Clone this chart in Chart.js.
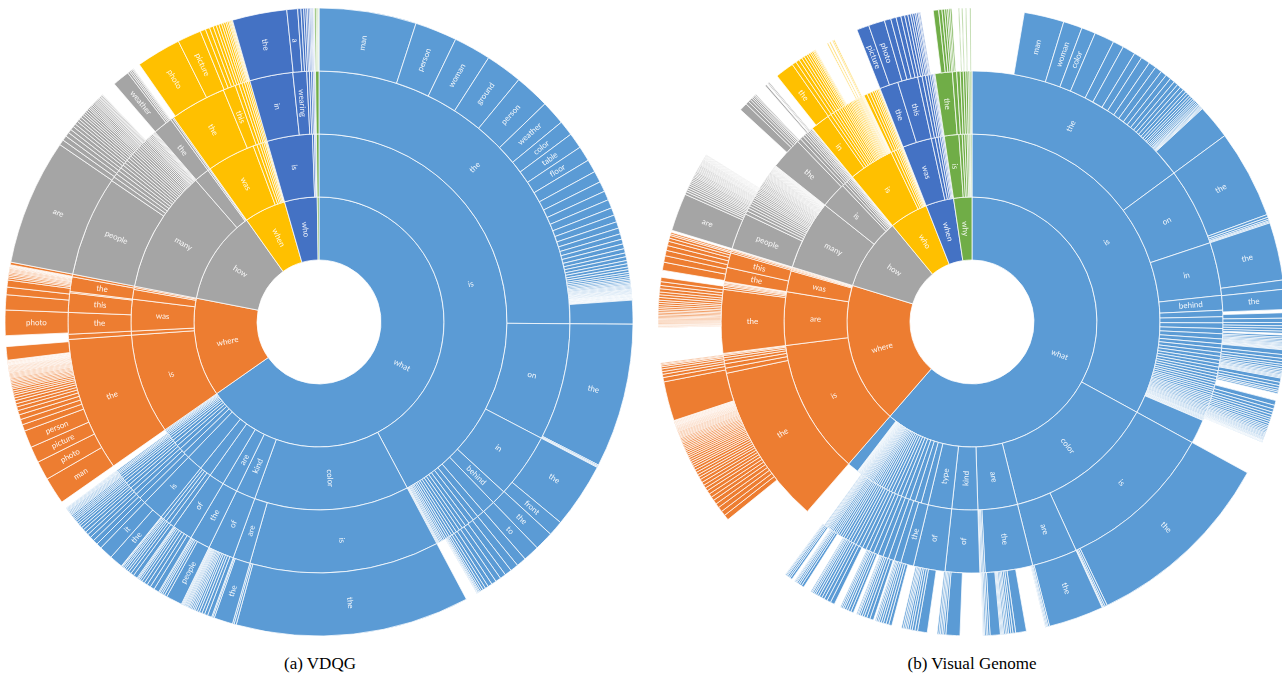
<!DOCTYPE html>
<html lang="en">
<head>
<meta charset="UTF-8">
<title>Question word sunbursts</title>
<script src="https://cdn.jsdelivr.net/npm/chart.js"></script>
<style>
  html, body { margin: 0; padding: 0; background: #fff; overflow: hidden; width: 1282px; height: 686px; }
  canvas { position: absolute; top: 8px; }
  #vdqg { left: 5px; }
  #vg { left: 658px; }
  .caption { position: absolute; top: 654px; width: 300px; text-align: center;
             font-family: "Liberation Serif", "DejaVu Serif", serif; font-size: 17px; color: #000; }
</style>
</head>
<body>
<canvas id="vdqg" width="628" height="628"></canvas>
<canvas id="vg" width="628" height="628"></canvas>
<div class="caption" style="left:170px">(a) VDQG</div>
<div class="caption" style="left:822px">(b) Visual Genome</div>

<script>
// Arc sizes are in degrees, clockwise from 12 o'clock.
// In ring lists: a bare number = unlabelled word, [word, size] = labelled word,
// [null, size] = no question continues there (left blank).

// ---------- (a) VDQG ----------
const vdqgFirstWords = ["what", "where", "how", "when", "who", "why"];
const vdqgFirstSizes = [235, 46, 43.6, 19.4, 15.2, 0.8];

const vdqgRing2 = [
  ["is", 152], ["color", 48], ["kind", 6], ["are", 4.7], 4.7,
  3.6, 5.0, 2.0, 1.6, 1.3, 1.1, 1.0, 0.8, 0.7, 0.6, 0.5, 0.4, 0.4, 0.3, 0.3,
  ["is", 31], 1.2, ["was", 9.8], 3.0, 0.6, 0.4,
  ["many", 38], 4.8, 0.5, 0.3,
  ["was", 14.9], 1.2, 0.9, 0.7, 0.6, 0.5, 0.3, 0.3,
  ["is", 14], 0.6, 0.4, 0.2,
  0.8
];

const vdqgRing3 = [
  ["the", 90.4], ["on", 27.2], ["in", 15], ["behind", 3.4], 3.1,
  1.7, 1.3, 1.2, 1.0, 0.9, 0.8, 0.8, 0.7, 0.6, 0.6, 0.5, 0.5, 0.4, 0.4, 0.3, 0.3, 0.3, 0.2, 0.2, 0.2,
  ["is", 44], ["are", 4], ["of", 6], ["the", 4.7], ["of", 4.7],
  1.2, 0.9, 0.8, 0.7,
  ["is", 5.0],
  1.5, 1.2, 1.0, 0.9, 0.8, 0.7, 0.7, 0.6, 0.5, 0.5, 0.4, 0.3, 0.3, 0.3,
  [null, 1.3],
  ["the", 31], 1.2, ["the", 5.0], ["this", 4.5], 0.3, ["the", 3.4], 0.6,
  ["people", 23.3],
  1.0, 0.9, 0.9, 0.8, 0.8, 0.7, 0.7, 0.7, 0.6, 0.6, 0.6, 0.5, 0.5, 0.5, 0.5,
  0.4, 0.4, 0.4, 0.4, 0.4, 0.3, 0.3, 0.3, 0.3, 0.3, 0.3, 0.2, 0.2, 0.2,
  0.2, ["the", 4.6], 0.5, 0.3,
  ["the", 13], ["this", 2.9], 0.9, 0.7, 0.6, 0.5, 0.4, 0.4,
  ["in", 10], ["wearing", 3.2], 0.6, 0.5, 0.4, 0.3, 0.2,
  0.8
];

const vdqgRing4 = [
  ["man", 18], ["person", 7.8], ["woman", 6.9], ["ground", 6.8], ["person", 6.5],
  ["weather", 4.5], ["color", 2.8], ["table", 2.9], ["floor", 2.8],
  2.4, 2.1, 1.9, 1.7, 1.6, 1.4, 1.3, 1.2, 1.1, 1.0, 0.9, 0.9, 0.8, 0.7, 0.7, 0.6, 0.6, 0.5, 0.5,
  0.4, 0.4, 0.35, 0.3, 0.3, 0.25, 0.25, 0.2, 0.2, 0.2, 0.2, 0.15, 0.15, 0.15, 0.15, 0.15, 0.15,
  0.1, 0.1, 0.1, 0.1, 0.1, 0.1, 0.1, 0.1, 0.1, 0.1, 0.1, 0.05,
  4.4,
  ["the", 26.7], 0.2, 0.15, 0.15,
  ["the", 12.1], ["front", 2.8], ["the", 3.5], ["to", 3.0],
  1.8, 1.5, 1.3, 1.1, 1.0, 0.9, 0.8, 0.6, 0.5, 0.4, 0.3, 0.2, 0.2, 0.1, 0.1,
  [null, 2.2],
  ["the", 43.3], 0.4, 0.3, ["the", 3.5], 0.3, 0.2,
  0.8, 0.6, 0.5, 0.5, 0.4, 0.4, 0.3, 0.3, 0.3, 0.25, 0.25, 0.2, 0.2, 0.2, 0.2, 0.15, 0.15, 0.15, 0.15,
  ["people", 3.0], 0.5, 0.4, 0.3, 0.3, 0.2,
  1.0, 0.8, 0.7, 0.6, 0.5, 0.4, 0.3, 0.2, 0.2,
  0.8, 0.6, 0.5, 0.4, 0.4, 0.3, 0.3, 0.2, 0.1,
  ["the", 2.5], ["it", 2.5],
  1.0, 0.9, 0.8, 0.7, 0.6, 0.6, 0.5, 0.5, 0.4, 0.4, 0.4, 0.3, 0.3, 0.3, 0.3,
  0.2, 0.2, 0.2, 0.2, 0.2, 0.15, 0.15, 0.15, 0.15, 0.1,
  [null, 1.3],
  ["man", 5], ["photo", 3.5], ["picture", 3], ["person", 3.2],
  1.2, 1.0, 0.9, 0.8, 0.7, 0.6, 0.6, 0.5, 0.5, 0.4, 0.4, 0.4, 0.3, 0.3, 0.3, 0.3,
  0.25, 0.25, 0.25, 0.2, 0.2, 0.2, 0.2, 0.2,
  0.15, 0.15, 0.15, 0.15, 0.15, 0.15, 0.15, 0.15, 0.15,
  0.1, 0.1, 0.1, 0.1, 0.1, 0.1, 0.1, 0.1, 0.1, 0.1,
  2.5, [null, 2.0], ["photo", 4.7], 2.8, 1.4, 1.3,
  0.4, 0.3, 0.3, 0.25, 0.25, 0.2, 0.2, 0.2, 0.15, 0.15, 0.1, 0.1, 0.1, 0.1,
  0.5,
  ["are", 23.4],
  1.0, 0.9, 0.8, 0.7, 0.7, 0.6, 0.6, 0.5, 0.5, 0.5, 0.4, 0.4, 0.4, 0.4,
  0.3, 0.3, 0.3, 0.3, 0.3, 0.25, 0.25, 0.25, 0.25, 0.2, 0.2, 0.2, 0.2, 0.2, 0.1,
  [null, 2.9], ["weather", 3.2], 0.4, 0.3, 0.3, 0.2, 0.1, [null, 0.8],
  [null, 0.5], ["photo", 8.3], ["picture", 4.4],
  1.0, 0.8, 0.7, 0.6, 0.5, 0.5, 0.4, 0.4, 0.3, 0.3, 0.2, 0.2, 0.15, 0.15,
  ["the", 10.1], ["a", 2.0], 0.6, 0.5, 0.4, 0.3, 0.3, 0.25, 0.2, 0.2, 0.15, 0.1, 0.1,
  0.3, 0.2, 0.2, 0.1
];

// ---------- (b) Visual Genome ----------
const vgFirstWords = ["what", "where", "how", "who", "when", "why"];
const vgFirstSizes = [221, 66, 33.5, 18, 13, 8.5];

const vgRing2 = [
  ["is", 118.7], ["color", 47.3], ["are", 12.2], ["kind", 8], ["type", 7.3],
  2.2, 1.9, 1.7, 1.5, 1.3, 1.2, 1.1, 1.0, 0.9, 0.8, 0.8, 0.7, 0.7, 0.6, 0.6, 0.5, 0.5, 0.5,
  0.4, 0.4, 0.4, 0.35, 0.35, 0.3, 0.3, 0.3, 0.25, 0.25, 0.25, 0.2, 0.2, 0.2, 0.2,
  0.15, 0.15, 0.15, 0.15, 0.15, 0.1, 0.1, 0.1, 0.1,
  3.5,
  ["is", 41.8], ["are", 16.5], ["was", 6.5], 0.4, 0.3, 0.3, 0.2,
  ["many", 21.5], ["is", 8], 1.0, 0.8, 0.6, 0.5, 0.4, 0.3, 0.2, 0.2,
  ["is", 14], 1.0, 0.8, 0.6, 0.5, 0.4, 0.3, 0.2, 0.2,
  ["was", 9], 1.2, 0.9, 0.7, 0.5, 0.4, 0.3,
  ["is", 4.5], 1.0, 0.8, 0.7, 0.5, 0.4, 0.3, 0.3
];

const vgRing3 = [
  ["the", 53.6], ["on", 18], ["in", 12.3], ["behind", 3.4],
  1.5, 1.4, 1.3, 1.2, 1.2, 1.1, 1.0, 1.0, 0.9, 0.9, 0.8, 0.8, 0.8, 0.7, 0.7, 0.7, 0.6, 0.6, 0.6,
  0.5, 0.5, 0.5, 0.5, 0.4, 0.4, 0.4, 0.4, 0.35, 0.35, 0.35, 0.3, 0.3, 0.3, 0.3,
  0.25, 0.25, 0.25, 0.25, 0.2, 0.2, 0.2, 0.2, 0.2, 0.15,
  5.6,
  ["is", 36.8], ["are", 10.5], ["the", 11], 0.4, 0.3, 0.3, 0.2, ["of", 8], ["of", 7.3], ["the", 3],
  1.6, 1.4, 1.3, 1.2, 1.1, 1.0, 0.9, 0.9, 0.8, 0.8, 0.7, 0.7, 0.6, 0.6, 0.6, 0.5, 0.5, 0.5,
  0.4, 0.4, 0.4, 0.4, 0.3, 0.3, 0.3, 0.25, 0.25, 0.2, 0.2, 0.2, 0.2,
  [null, 5],
  ["the", 37.2], 1.2, 1.0, 0.8, 0.6, 0.5, 0.3, 0.2,
  ["the", 14.7], 0.5, 0.4, 0.3, 0.3, 0.2, 0.1,
  ["the", 3.3], ["this", 3.4], 0.4, 0.3, 0.2, 0.1,
  ["people", 8.5],
  0.8, 0.7, 0.6, 0.6, 0.5, 0.5, 0.5, 0.4, 0.4, 0.4, 0.4, 0.35, 0.35, 0.35,
  0.3, 0.3, 0.3, 0.3, 0.3, 0.25, 0.25, 0.25, 0.25, 0.25, 0.2, 0.2, 0.2, 0.2, 0.2, 0.2, 0.2,
  0.15, 0.15, 0.15, 0.15, 0.15, 0.15, 0.15, 0.15, 0.1, 0.1, 0.1, 0.1, 0.1, 0.1, 0.1, 0.1,
  ["the", 7.5], 0.9, 0.8, 0.6, 0.5, 0.4, 0.4, 0.3, 0.3, 0.2, 0.1,
  ["in", 4.5],
  0.8, 0.7, 0.6, 0.6, 0.5, 0.5, 0.5, 0.4, 0.4, 0.4, 0.35, 0.35, 0.3, 0.3, 0.3, 0.3,
  0.25, 0.25, 0.25, 0.2, 0.2, 0.2, 0.2, 0.15, 0.15, 0.15, 0.1, 0.1,
  0.8, 0.7, 0.6, 0.5, 0.4, 0.4, 0.3, 0.2, 0.1,
  ["the", 4.3], ["this", 4.7], 1.0, 0.8, 0.6, 0.5, 0.4, 0.3, 0.2, 0.2,
  ["the", 4], 1.0, 0.8, 0.7, 0.6, 0.5, 0.4, 0.3, 0.2
];

const vgRing4 = [
  [null, 9.6], ["man", 7.4], ["woman", 3.5], ["color", 2.6],
  3.7, 2.0, 2.4, 1.5, 1.7, 1.4, 1.3, 1.1, 1.0, 0.9, 0.8, 0.7, 0.7, 0.6, 0.5, 0.5, 0.4, 0.4,
  0.35, 0.3, 0.3, 0.25, 0.25, 0.2, 0.2, 0.2, 0.15, 0.15, 0.15,
  6.4,
  ["the", 16.4], 0.5, 0.4, 0.3, 0.2, 0.2,
  ["the", 10.7], 1.7, ["the", 3.7], [null, 0.6],
  1.0, 0.8, 0.6, 0.5, 0.5, 0.4, [null, 0.3], 0.4, 0.3, 0.3, 0.25, 0.25, 0.2, 0.2, 0.2, 0.15, 0.15, 0.15, 0.15,
  0.9, 0.7, 0.6, 0.5, 0.4, 0.4, 0.3, 0.3, 0.25, 0.25, 0.2, 0.2, 0.2,
  0.8, 0.6, 0.5, 0.4, 0.3, 0.3, [null, 1.3],
  0.9, 0.7, 0.6, 0.5, 0.5, 0.4, 0.4, 0.4, 0.4, 0.3, 0.3, 0.3, 0.25, 0.25,
  0.2, 0.2, 0.2, 0.2, 0.15, 0.15, 0.15, 0.15, 0.1, 0.1, 0.1, 0.1,
  [null, 6.2],
  ["the", 35.8], 0.4, 0.3, 0.2, 0.1, ["the", 10.2], 0.3, 0.2, 0.2, 0.1, [null, 3.5],
  2.0, 0.5, 0.4, 0.4, 0.3, 0.3, 0.3, 0.2, 0.2, 0.2, 1.9, 0.4, 0.3, 0.3, 0.2, 0.1, [null, 4.2],
  2.6, 0.4, 0.3, 0.3, 0.3, 0.3, [null, 1.8],
  1.8, 0.5, 0.5, 0.4, 0.4, 0.3, 0.3, 0.3, 0.3, [null, 1.8],
  0.6, 0.5, 0.5, 0.4, 0.4, 0.3, 0.3, 0.2, [null, 0.3],
  0.7, 0.6, 0.5, 0.4, 0.4, 0.3, 0.2, 0.2, [null, 0.6],
  0.5, 0.5, 0.4, 0.4, 0.3, 0.3, 0.2, [null, 1.2],
  0.8, 0.7, 0.6, 0.5, 0.5, 0.4, 0.4, 0.3, 0.3, 0.2, 0.2, [null, 1.5],
  0.5, 0.4, 0.3, 0.3, 0.2, 0.2, 0.1, [null, 0.6],
  0.4, 0.3, 0.3, 0.2, 0.2, 0.1,
  [null, 4.5],
  [null, 10],
  1.0, 0.9, 0.9, 0.8, 0.8, 0.7, 0.7, 0.7, 0.6, 0.6, 0.6, 0.6, 0.5, 0.5, 0.5, 0.5, 0.5,
  0.4, 0.4, 0.4, 0.4, 0.4, 0.35, 0.35, 0.35, 0.35, 0.3, 0.3, 0.3, 0.3, 0.3,
  0.25, 0.25, 0.25, 0.25, 0.2, 0.2, 0.2, 0.2, 0.2, 0.2,
  0.15, 0.15, 0.15, 0.15, 0.15, 0.15, 0.15, 0.15,
  0.1, 0.1, 0.1, 0.1, 0.1, 0.1, 0.1, 0.1, 0.1, 0.1,
  7.3, 0.8, 0.6, 0.5, 0.5, 0.4, 0.3, 0.2, 0.2, [null, 6.5],
  0.1, 0.1, 0.15, 0.15, 0.15, 0.2, 0.2, 0.2, 0.2, 0.25, 0.25, 0.25, 0.3, 0.3, 0.3,
  0.35, 0.35, 0.4, 0.4, 0.4, 0.5, 0.5, 0.5, 0.6, 0.6, 0.7, 0.8,
  [null, 1.3], 1.5, 1.2, 1.0, 0.9, 0.8, 0.6, 0.5, 0.3, 0.3, [null, 0.4],
  ["are", 7],
  0.5, 0.4, 0.4, 0.4, 0.35, 0.35, 0.3, 0.3, 0.3, 0.3, 0.25, 0.25, 0.25, 0.25,
  0.2, 0.2, 0.2, 0.2, 0.2, 0.2, 0.2, 0.15, 0.15, 0.15, 0.15, 0.15, 0.15, 0.15, 0.15,
  0.1, 0.1, 0.1, 0.1, 0.1, 0.1, 0.1, 0.1, 0.1, 0.1,
  [null, 10.3], 1.5, 0.6, 0.5, 0.4, 0.3, 0.3, 0.2, 0.2, [null, 2.3], 0.3, [null, 0.3], 0.2, 0.2, [null, 0.7],
  [null, 1.1], ["the", 3.5], 0.8, 0.7, 0.6, 0.5, 0.5, 0.4, 0.4, 0.3, 0.3, 0.2, 0.2, 0.1,
  [null, 2.4], 0.2, [null, 0.3], 0.2, [null, 0.4], 0.2, 0.2, [null, 4.5],
  ["picture", 2.3], ["photo", 3.0], 1.2, 1.0, 0.9, 0.7, 0.6, 0.5, 0.4, 0.4, 0.3, 0.3, 0.2, 0.2, [null, 1.0],
  [null, 1.4], 1.0, 0.6, 0.5, 0.4, 0.3, 0.3, 0.3, [null, 1.2],
  0.2, [null, 0.4], 0.2, [null, 0.5], 0.2, [null, 0.6], 0.2, [null, 0.2]
];

const palette = ["#5B9BD5", "#ED7D31", "#A5A5A5", "#FFC000", "#4472C4", "#70AD47"];

// turns a ring list into a doughnut dataset, colour taken from the first word under it
function ringDataset(entries, firstSizes) {
  const bounds = [];
  let acc = 0;
  firstSizes.forEach(s => { acc += s; bounds.push(acc); });
  const sizes = [], words = [], colors = [], widths = [];
  let pos = 0;
  entries.forEach(e => {
    const word = Array.isArray(e) ? e[0] : "";
    const size = Array.isArray(e) ? e[1] : e;
    const mid = pos + size / 2;
    pos += size;
    let k = bounds.findIndex(b => mid < b);
    if (k < 0) k = bounds.length - 1;
    sizes.push(size);
    words.push(word);
    colors.push(word === null ? "rgba(0,0,0,0)" : palette[k]);
    widths.push(word === null ? 0 : 1);
  });
  return {
    data: sizes,
    words: words,
    backgroundColor: colors,
    borderColor: "rgba(255,255,255,0.75)",
    borderWidth: widths
  };
}

const wordLabels = {
  id: "wordLabels",
  afterDatasetsDraw(chart) {
    const ctx = chart.ctx;
    ctx.save();
    ctx.font = "8px Lato";
    ctx.fillStyle = "rgba(255,255,255,0.92)";
    ctx.textAlign = "center";
    ctx.textBaseline = "middle";
    chart.data.datasets.forEach((ds, i) => {
      chart.getDatasetMeta(i).data.forEach((arc, j) => {
        const word = ds.words[j];
        if (!word) return;
        const p = arc.getProps(["x", "y", "startAngle", "endAngle", "innerRadius", "outerRadius"]);
        const a = (p.startAngle + p.endAngle) / 2;
        const r = (p.innerRadius + p.outerRadius) / 2;
        if ((p.endAngle - p.startAngle) * r < 7) return;
        ctx.save();
        ctx.translate(p.x + r * Math.cos(a), p.y + r * Math.sin(a));
        ctx.rotate(Math.cos(a) >= 0 ? a : a + Math.PI);
        ctx.fillText(word, 0, 0);
        ctx.restore();
      });
    });
    ctx.restore();
  }
};

function drawSunburst(id, firstWords, firstSizes, ring2, ring3, ring4) {
  const ring1 = firstWords.map((w, i) => [w, firstSizes[i]]);
  new Chart(document.getElementById(id), {
    type: "doughnut",
    data: { datasets: [ring4, ring3, ring2, ring1].map(r => ringDataset(r, firstSizes)) },
    options: {
      responsive: false,
      animation: false,
      events: [],
      cutout: "19.75%",
      radius: 314,
      plugins: { legend: { display: false }, tooltip: { enabled: false } }
    },
    plugins: [wordLabels]
  });
}

drawSunburst("vdqg", vdqgFirstWords, vdqgFirstSizes, vdqgRing2, vdqgRing3, vdqgRing4);
drawSunburst("vg", vgFirstWords, vgFirstSizes, vgRing2, vgRing3, vgRing4);
</script>
</body>
</html>
